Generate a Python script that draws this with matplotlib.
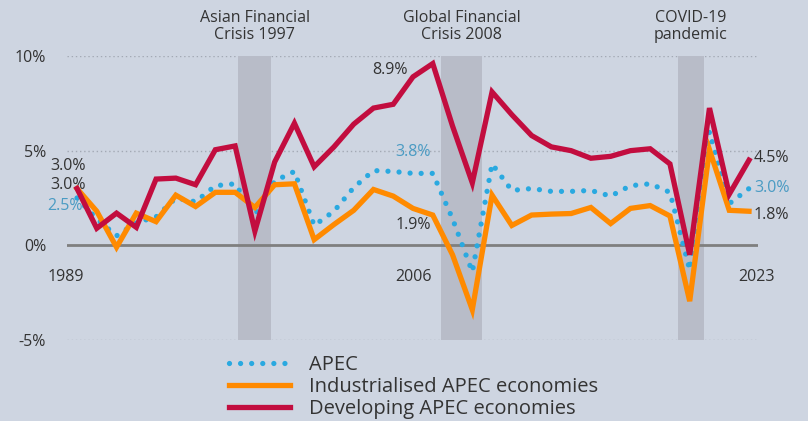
import matplotlib
matplotlib.use("Agg")
import matplotlib.pyplot as plt

years = list(range(1989, 2024))
apec = [2.5, 1.4, 0.5, 1.2, 1.5, 2.5, 2.3, 3.15, 3.25, 1.6, 3.4, 3.9, 1.05, 1.8, 3.05,
        3.95, 3.9, 3.8, 3.8, 1.4, -1.4, 4.3, 2.9, 3.0, 2.85, 2.85, 2.9, 2.6, 3.15, 3.25,
        2.8, -1.3, 6.0, 2.2, 3.0]
industrialised = [3.0, 1.8, -0.1, 1.7, 1.25, 2.65, 2.05, 2.8, 2.8, 2.0, 3.2, 3.25, 0.3, 1.1,
                  1.85, 2.95, 2.6, 1.95, 1.6, -0.5, -3.4, 2.65, 1.05, 1.6, 1.65, 1.68, 2.0,
                  1.15, 1.95, 2.1, 1.55, -2.95, 5.05, 1.85, 1.8]
developing = [3.0, 0.9, 1.7, 0.95, 3.5, 3.55, 3.2, 5.05, 5.25, 0.75, 4.4, 6.45, 4.15, 5.2,
              6.4, 7.25, 7.45, 8.9, 9.6, 6.3, 3.3, 8.1, 6.9, 5.8, 5.2, 5.0, 4.6, 4.7, 5.0,
              5.1, 4.3, -0.5, 7.25, 2.7, 4.5]

series_names = ["APEC", "Industrialised APEC economies", "Developing APEC economies"]
yticks = [10, 5, 0, -5]
ytick_labels = ["10%", "5%", "0%", "-5%"]
crises = [("Asian Financial\nCrisis 1997", 1997.15, 1998.82),
          ("Global Financial\nCrisis 2008", 2007.4, 2009.5),
          ("COVID-19\npandemic", 2019.4, 2020.7)]
year_labels = [(1988.45, "1989"), (2006.0, "2006"), (2023.4, "2023")]

BG = "#ced5e1"
SHADE = "#b8bcc8"
RED = "#c20d3f"
ORANGE = "#ff8a00"
BLUE = "#2aa9e0"
BLUE_TXT = "#4a9bc3"
DARK = "#333333"
FS = 11.5

plt.rcParams['font.family'] = ['Open Sans', 'DejaVu Sans']

fig = plt.figure(figsize=(8.08, 4.21), dpi=100, facecolor=BG)
ax = fig.add_axes([67/808, 1-340/421, 691/808, 284/421])
ax.set_facecolor(BG)
ax.set_xlim(1988.494, 2023.455)
ax.set_ylim(-5, 10)
for s in ax.spines.values():
    s.set_visible(False)

for y in [10, 5, -5]:
    ax.axhline(y, color="#a3a9b4", lw=1.0, ls=(0, (1, 2)), zorder=1)
ax.axhline(0, color="#7f7f7f", lw=2.0, zorder=2)

for label, x0, x1 in crises:
    ax.axvspan(x0, x1, color=SHADE, lw=0, zorder=1.5)
    ax.text((x0 + x1) / 2, 11.55, label, ha="center", va="center", fontsize=FS,
            color=DARK, linespacing=1.1, clip_on=False)

ax.set_yticks(yticks)
ax.set_yticklabels(ytick_labels, fontsize=FS, color=DARK)
ax.tick_params(axis="y", length=0, pad=15)
ax.set_xticks([])

l1, = ax.plot(years, apec, color=BLUE, lw=3.8, ls=(0, (0.001, 2.1)),
              dash_capstyle="round", zorder=3, label=series_names[0])
l2, = ax.plot(years, industrialised, color=ORANGE, lw=3.8, solid_joinstyle="miter",
              zorder=4, label=series_names[1])
l3, = ax.plot(years, developing, color=RED, lw=3.8, solid_joinstyle="miter",
              zorder=5, label=series_names[2])

for x, t in year_labels:
    ax.text(x, -1.66, t, ha="center", va="center", fontsize=FS, color=DARK, clip_on=False)

# value labels
ax.text(1989.45, 4.17, f"{developing[0]:.1f}%", ha="right", va="center", fontsize=FS, color=DARK)
ax.text(1989.45, 3.17, f"{industrialised[0]:.1f}%", ha="right", va="center", fontsize=FS, color=DARK)
ax.text(1989.3, 2.06, f"{apec[0]:.1f}%", ha="right", va="center", fontsize=FS, color=BLUE_TXT)
ax.text(2005.75, 9.24, f"{developing[17]:.1f}%", ha="right", va="center", fontsize=FS, color=DARK)
ax.text(2006.02, 4.94, f"{apec[17]:.1f}%", ha="center", va="center", fontsize=FS, color=BLUE_TXT)
ax.text(2006.0, 1.06, "1.9%", ha="center", va="center", fontsize=FS, color=DARK)
ax.text(2023.25, 4.6, f"{developing[-1]:.1f}%", ha="left", va="center", fontsize=FS, color=DARK, clip_on=False)
ax.text(2023.25, 3.01, f"{apec[-1]:.1f}%", ha="left", va="center", fontsize=FS, color=BLUE_TXT, clip_on=False)
ax.text(2023.25, 1.58, f"{industrialised[-1]:.1f}%", ha="left", va="center", fontsize=FS, color=DARK, clip_on=False)

leg = fig.legend(handles=[l1, l2, l3], loc="upper left",
                 bbox_to_anchor=(229/808, 1-355/421), frameon=False,
                 fontsize=14.5, handlelength=3.05, handletextpad=0.93,
                 labelspacing=0.1, borderpad=0, borderaxespad=0)
for t in leg.get_texts():
    t.set_color(DARK)

fig.savefig("out.png", dpi=100, facecolor=BG)
